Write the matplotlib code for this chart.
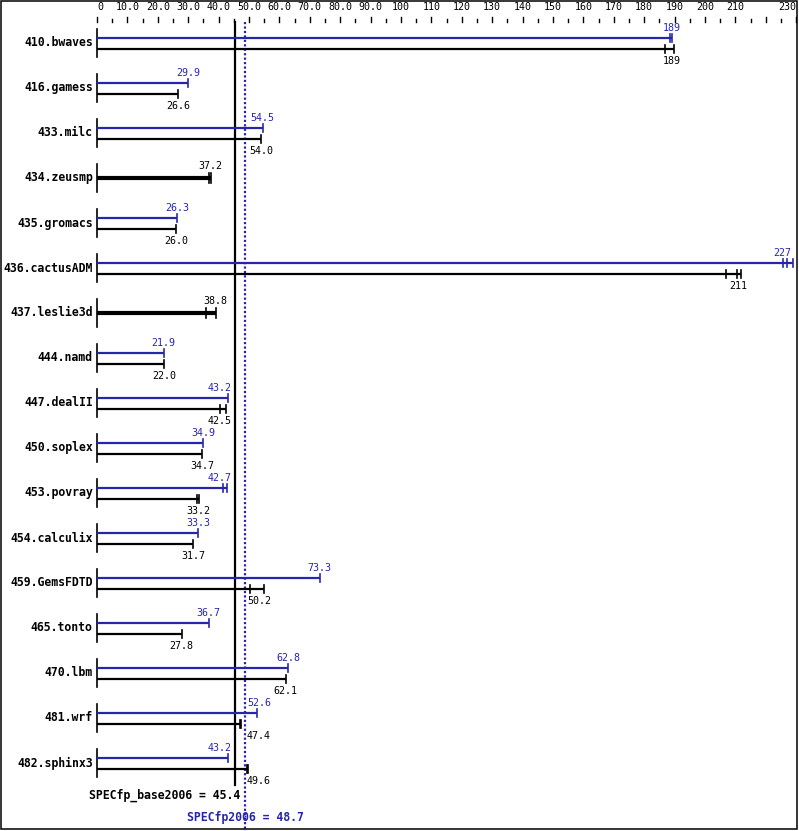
import matplotlib
matplotlib.use("Agg")
import matplotlib.pyplot as plt
from matplotlib.patches import Rectangle

# benchmark data: median value and individual run ticks (peak and base)
benchmarks = ["410.bwaves", "416.gamess", "433.milc", "434.zeusmp", "435.gromacs",
              "436.cactusADM", "437.leslie3d", "444.namd", "447.dealII", "450.soplex",
              "453.povray", "454.calculix", "459.GemsFDTD", "465.tonto", "470.lbm",
              "481.wrf", "482.sphinx3"]
peak_vals = [189, 29.9, 54.5, 37.2, 26.3, 227, 38.8, 21.9, 43.2, 34.9,
             42.7, 33.3, 73.3, 36.7, 62.8, 52.6, 43.2]
base_vals = [189, 26.6, 54.0, 37.2, 26.0, 211, 38.8, 22.0, 42.5, 34.7,
             33.2, 31.7, 50.2, 27.8, 62.1, 47.4, 49.6]
peak_runs = [[188.4, 189.0], [29.9], [54.5], [36.7, 37.6], [26.3],
             [225.5, 227.0, 228.8], [35.8, 39.0], [21.9], [43.2], [34.9],
             [41.6, 42.8], [33.3], [73.3], [36.7], [62.8], [52.6], [43.2]]
base_runs = [[187.0, 189.8], [26.6], [54.0], [36.7, 37.6], [26.0],
             [206.8, 210.4, 211.9], [35.8, 39.0], [22.0], [40.3, 42.5], [34.7],
             [32.9, 33.5], [31.7], [50.3, 54.9], [27.8], [62.1], [47.0, 47.5],
             [49.2, 49.6]]
same_result = [False, False, False, True, False, False, True, False, False, False,
               False, False, False, False, False, False, False]

specfp_base = 45.4
specfp_peak = 48.7

major_ticks = [0, 10, 20, 30, 40, 50, 60, 70, 80, 90, 100, 110, 120, 130, 140, 150,
               160, 170, 180, 190, 200, 210, 220, 230]
major_labels = ["0", "10.0", "20.0", "30.0", "40.0", "50.0", "60.0", "70.0", "80.0",
                "90.0", "100", "110", "120", "130", "140", "150", "160", "170", "180",
                "190", "200", "210", "", "230"]
minor_ticks = [5 + 10 * i for i in range(23)]

BLUE = "#2626aa"
FONT = "DejaVu Sans Mono"
PX = 45.0   # pixels per row
SX = 3.04   # pixels per unit


def py(p):
    """pixel offset -> row units"""
    return p / PX


def value_label(v, y, text, color):
    # keep labels clear of the two score lines
    half = len(text) * 5.8 / 2 / SX
    lo, hi = specfp_base - 0.7, specfp_peak + 0.7
    if v - half < hi and v + half > lo:
        if v < specfp_base:
            ax.text(specfp_base - 1.0, y, text, ha="right", va="center",
                    fontsize=7.2, family=FONT, color=color)
        else:
            ax.text(specfp_peak + 0.6, y, text, ha="left", va="center",
                    fontsize=7.2, family=FONT, color=color)
    else:
        ax.text(min(v, 225.5), y, text, ha="center", va="center",
                fontsize=7.2, family=FONT, color=color)


fig = plt.figure(figsize=(7.99, 8.31), dpi=100)
ax = fig.add_axes([0, 0, 1, 1])
ax.set_xlim(-97 / SX, (799 - 97) / SX)
ax.set_ylim((831 - 43) / PX, -43 / PX)
ax.axis("off")

# top scale
for t, lab in zip(major_ticks, major_labels):
    ax.plot([t, t], [py(-26), py(-21)], color="black", lw=1)
    if t == 0:
        ha = "left"
    elif t == major_ticks[-1]:
        ha = "right"
    else:
        ha = "center"
    ax.text(t, py(-36), lab, ha=ha, va="center", fontsize=7.2, family=FONT)
for t in minor_ticks:
    ax.plot([t, t], [py(-24), py(-21)], color="black", lw=1)

# reference lines
ax.plot([specfp_base, specfp_base], [py(-21), py(742)], color="black", lw=1.6)
ax.plot([specfp_peak, specfp_peak], [py(-21), py(790)], color=BLUE, lw=1.6,
        linestyle=(0, (1, 1)))

for i, name in enumerate(benchmarks):
    ax.text(-1.4, i, name, ha="right", va="center",
            fontsize=8.3, family=FONT, weight="bold")
    ax.plot([0, 0], [i - py(14), i + py(14)], color="black", lw=1.2)
    if same_result[i]:
        ax.plot([0, max(base_runs[i])], [i, i], color="black", lw=3, solid_capstyle="butt")
        for r in base_runs[i]:
            ax.plot([r, r], [i - py(5), i + py(5)], color="black", lw=1.2)
        value_label(base_vals[i], i - py(12), f"{base_vals[i]:.1f}", "black")
        continue
    yp = i - py(5)
    yb = i + py(6)
    ax.plot([0, max(peak_runs[i])], [yp, yp], color=BLUE, lw=1.6, solid_capstyle="butt")
    for r in peak_runs[i]:
        ax.plot([r, r], [yp - py(4), yp + py(4)], color=BLUE, lw=1.2)
    ax.plot([0, max(base_runs[i])], [yb, yb], color="black", lw=1.6, solid_capstyle="butt")
    for r in base_runs[i]:
        ax.plot([r, r], [yb - py(4), yb + py(4)], color="black", lw=1.2)
    pl = f"{peak_vals[i]:.1f}" if peak_vals[i] < 100 else f"{peak_vals[i]:.0f}"
    bl = f"{base_vals[i]:.1f}" if base_vals[i] < 100 else f"{base_vals[i]:.0f}"
    value_label(peak_vals[i], yp - py(10), pl, BLUE)
    value_label(base_vals[i], yb + py(12), bl, "black")

# summary labels
ax.text(specfp_base + 1.8, py(752), f"SPECfp_base2006 = {specfp_base}", ha="right",
        va="center", fontsize=8.3, family=FONT, weight="bold")
ax.text(specfp_peak, py(775), f"SPECfp2006 = {specfp_peak}", ha="center",
        va="center", fontsize=8.3, family=FONT, weight="bold", color=BLUE)

# frame around the picture
fig.add_artist(Rectangle((0.6 / 799, 1.6 / 831), 796.5 / 799, 828.8 / 831,
                         transform=fig.transFigure, fill=False, ec="black", lw=1.1))

fig.savefig("out.png", dpi=100, facecolor="white")
